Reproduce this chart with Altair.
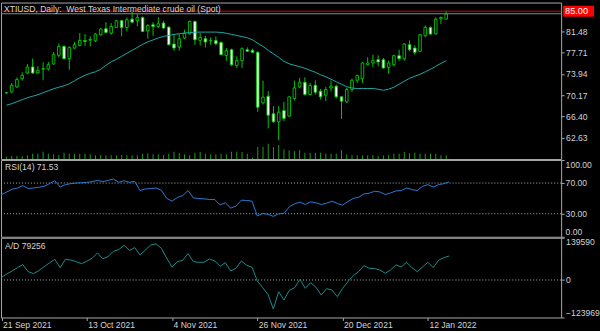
import altair as alt
import pandas as pd

TITLE = "XTIUSD, Daily:\u00a0\u00a0West Texas Intermediate crude oil (Spot)"

opens = [70.55, 70.75, 71.63, 73.09, 74.09, 75.15, 74.09, 74.75, 74.80, 75.68,
         77.20, 78.79, 76.62, 78.49, 78.96, 79.84, 79.90, 79.78, 80.84, 81.90,
         81.13, 82.13, 83.31, 82.13, 83.60, 83.31, 83.89, 81.55, 82.60, 82.31,
         82.90, 82.19, 79.20, 78.67, 80.26, 81.02, 83.19, 79.84, 80.14, 79.75,
         79.84, 79.49, 77.20, 78.20, 75.44, 76.27, 78.20, 78.09, 77.73, 68.81,
         69.99, 66.88, 65.47, 67.46, 66.47, 69.58, 71.63, 72.45, 70.28, 71.92,
         70.87, 70.16, 71.45, 71.75, 69.87, 68.99, 71.16, 72.80, 73.09, 75.56,
         75.85, 76.44, 76.44, 75.09, 75.56, 77.14, 76.62, 79.08, 78.49, 77.91,
         80.67, 82.13, 81.02, 83.66, 83.60]
highs = [70.75, 72.33, 73.33, 74.21, 75.68, 76.62, 75.27, 75.97, 76.03, 77.79,
         79.26, 78.96, 78.79, 79.55, 81.13, 80.96, 80.55, 81.13, 82.02, 83.07,
         82.90, 83.48, 83.48, 83.89, 84.83, 84.48, 84.07, 82.72, 83.07, 83.95,
         83.31, 82.31, 80.96, 80.96, 81.72, 83.36, 83.36, 81.13, 80.67, 80.37,
         80.55, 79.67, 78.49, 78.38, 77.03, 78.61, 78.61, 78.38, 77.91, 72.74,
         70.87, 68.23, 68.23, 68.99, 69.99, 72.74, 73.21, 73.33, 72.33, 72.80,
         71.28, 71.63, 72.74, 72.04, 69.99, 71.45, 73.09, 73.80, 76.03, 76.85,
         77.32, 77.20, 76.73, 76.26, 77.32, 78.20, 79.38, 79.84, 78.96, 81.02,
         82.48, 82.31, 83.89, 84.07, 85.07]
lows = [70.45, 70.57, 71.45, 72.74, 73.92, 73.92, 73.92, 72.80, 74.50, 75.56,
        76.85, 76.44, 74.68, 78.32, 78.79, 78.90, 78.79, 79.55, 80.67, 81.13,
        80.84, 82.02, 80.55, 81.43, 82.90, 82.31, 81.31, 80.14, 80.67, 82.02,
        81.90, 78.96, 78.02, 78.02, 80.08, 80.84, 79.08, 78.96, 78.61, 79.08,
        78.96, 77.20, 76.26, 75.27, 74.98, 74.98, 77.80, 77.62, 67.23, 68.52,
        64.29, 65.29, 62.18, 65.59, 66.29, 69.22, 71.45, 70.10, 70.10, 70.28,
        69.40, 69.11, 70.87, 69.58, 65.99, 68.81, 70.75, 72.33, 72.33, 75.44,
        75.15, 75.27, 74.86, 73.92, 75.27, 76.26, 76.26, 77.91, 77.32, 77.79,
        80.37, 80.84, 80.84, 82.72, 83.48]
closes = [70.60, 71.92, 72.92, 73.68, 75.15, 74.09, 74.56, 74.85, 75.56, 77.32,
          78.79, 76.62, 78.61, 79.08, 79.84, 79.67, 80.00, 80.96, 81.84, 81.25,
          82.31, 83.31, 82.13, 83.48, 83.07, 83.89, 81.43, 82.48, 82.31, 82.78,
          82.02, 79.08, 78.49, 80.14, 81.13, 83.19, 79.96, 80.37, 79.55, 79.80,
          79.26, 77.32, 78.02, 75.56, 76.27, 78.38, 77.91, 77.73, 68.05, 69.81,
          66.64, 65.47, 67.17, 66.06, 69.87, 71.45, 72.45, 70.28, 71.87, 70.69,
          69.87, 71.16, 71.75, 69.87, 69.11, 71.16, 72.80, 73.62, 75.85, 75.85,
          76.32, 76.03, 74.97, 75.85, 77.14, 76.62, 79.20, 78.20, 77.73, 80.84,
          82.13, 80.96, 83.60, 83.89, 84.55]
ma = [68.40, 68.66, 69.02, 69.37, 69.72, 69.98, 70.25, 70.60, 70.95, 71.31,
      71.57, 71.83, 72.19, 72.71, 73.24, 73.68, 74.03, 74.30, 74.74, 75.44,
      76.06, 76.50, 77.03, 77.56, 78.08, 78.61, 79.14, 79.58, 79.93, 80.28,
      80.55, 80.72, 80.90, 81.02, 81.13, 81.22, 81.29, 81.31, 81.31, 81.31,
      81.31, 81.25, 81.11, 80.90, 80.72, 80.50, 80.32, 79.93, 79.32, 78.79,
      78.08, 77.47, 76.85, 76.15, 75.71, 75.44, 75.21, 74.91, 74.56, 74.21,
      73.77, 73.42, 72.98, 72.54, 72.10, 71.66, 71.43, 71.34, 71.34, 71.34,
      71.34, 71.22, 71.04, 71.22, 71.57, 72.10, 72.63, 73.15, 73.51, 73.86,
      74.30, 74.74, 75.27, 75.79, 76.27]
volumes = [25, 30, 30, 30, 37, 53, 53, 73, 53, 47,
           40, 63, 53, 53, 53, 53, 47, 37, 40, 37,
           37, 37, 40, 37, 37, 37, 53, 57, 47, 47,
           40, 53, 73, 60, 47, 40, 63, 70, 53, 47,
           47, 53, 47, 73, 73, 70, 53, 13, 120, 123,
           153, 120, 140, 97, 87, 80, 90, 63, 63, 63,
           63, 53, 53, 53, 90, 47, 40, 37, 37, 37,
           40, 30, 37, 40, 53, 53, 70, 57, 63, 53,
           53, 53, 53, 37, 37]
rsi = [55.0, 58.4, 61.9, 63.5, 66.6, 62.8, 63.5, 64.5, 65.7, 69.2,
       73.1, 64.8, 67.9, 69.2, 70.0, 70.4, 70.9, 71.8, 73.5, 71.8,
       73.5, 75.2, 70.9, 73.1, 70.9, 72.2, 60.2, 62.3, 62.8, 63.5,
       60.6, 49.9, 46.4, 51.2, 53.7, 60.2, 50.6, 49.9, 49.4, 48.6,
       48.6, 41.6, 44.2, 37.4, 39.9, 47.7, 47.3, 46.4, 27.0, 30.5,
       29.2, 26.6, 30.0, 30.5, 39.0, 42.9, 45.1, 42.1, 45.5, 44.2,
       42.1, 43.8, 46.4, 43.4, 41.2, 46.0, 49.9, 51.5, 55.8, 56.7,
       59.3, 58.4, 55.0, 57.1, 59.7, 60.2, 63.5, 61.5, 60.2, 65.7,
       67.9, 64.8, 67.9, 69.2, 71.53]
ad = [8830, 19870, 29800, 40840, 50770, 27590, 20970, 30900, 44150, 56290,
      68430, 40840, 68430, 66220, 60700, 54080, 61810, 71740, 89400, 70640,
      77260, 94920, 100440, 114790, 98230, 107060, 82780, 99330, 115890, 119200,
      104850, 71740, 43040, 60700, 65120, 87190, 60700, 58500, 58500, 69530,
      62910, 45250, 57390, 29800, 38630, 62910, 48560, 41940, -3310, -25390,
      -47460, -96020, -38630, -66220, -34210, -25390, 2210, -27590, -8830, -24280,
      -49670, -28700, -33110, -55190, -27590, -5520, 14350, 27590, 47460, 38630,
      37530, 33110, 22070, 33110, 49670, 43040, 58500, 40840, 27590, 43040,
      58500, 40840, 65120, 73950, 79256]

tick_idx = [0, 16, 32, 48, 64, 80]
tick_labels = ["21 Sep 2021", "13 Oct 2021", "4 Nov 2021", "26 Nov 2021",
               "20 Dec 2021", "12 Jan 2022"]
price_ticks = [62.63, 66.40, 70.17, 73.94, 77.71, 81.48]
rsi_levels = [30, 70]
rsi_ticks = [0, 30, 70, 100]
ad_ticks = [-123969, 0, 139590]
ask_price = 85.00

n = len(closes)
df = pd.DataFrame({
    "i": list(range(n)), "open": opens, "high": highs, "low": lows,
    "close": closes, "ma": ma, "vol": volumes, "rsi": rsi, "ad": ad,
})

FONT = "Liberation Sans, Arial, sans-serif"
FS = 8.6
GREEN = "#00c800"
VOLGREEN = "#1f9a1f"
GRID = "#a8a8a8"
LABEL = "#d4d4d4"
W = 562
H_MAIN, H_RSI, H_AD, GAP = 157, 77, 80, 1

xs = alt.Scale(domain=[-0.0935, 105.0], nice=False, zero=False)
X_none = alt.X("i:Q", scale=xs, axis=None)

axis_common = dict(orient="right", title=None, domain=False, grid=False,
                   tickSize=3, tickColor=GRID, tickWidth=1, labelColor=LABEL,
                   labelFont=FONT, labelFontSize=FS, labelPadding=1.5,
                   labelAlign="left", labelOverlap=False)

# ---------- main panel ----------
pscale = alt.Scale(domain=[58.89, 86.53], nice=False, zero=False)
paxis = alt.Axis(values=price_ticks, format=".2f", labelBaseline="middle",
                 labelFlush=False, **axis_common)

base = alt.Chart(df)
wick = base.mark_rule(color=GREEN, strokeWidth=1, clip=True).encode(
    x=X_none, y=alt.Y("low:Q", scale=pscale, axis=paxis), y2="high:Q")
body = base.mark_bar(size=2.6, stroke=GREEN, strokeWidth=0.9, clip=True).encode(
    x=X_none, y=alt.Y("open:Q", scale=pscale, axis=paxis), y2="close:Q",
    fill=alt.when(alt.datum.close >= alt.datum.open)
        .then(alt.value("black")).otherwise(alt.value("white")))
ma_line = base.mark_line(color="#1ea8a8", strokeWidth=1, clip=True).encode(
    x=X_none, y=alt.Y("ma:Q", scale=pscale, axis=paxis))

ask_df = pd.DataFrame({"p": [ask_price]})
bid_df = pd.DataFrame({"p": [closes[-1]]})
bid_rule = alt.Chart(bid_df).mark_rule(color="#8a8a8a", strokeWidth=1).encode(
    y=alt.Y("p:Q", scale=pscale, axis=paxis))
ask_rule = alt.Chart(ask_df).mark_rule(color="#d80000", strokeWidth=1).encode(
    y=alt.Y("p:Q", scale=pscale, axis=paxis))
ask_box = alt.Chart(ask_df).mark_rect(color="#ff0000", yOffset=-5.5, y2Offset=5.5).encode(
    x=alt.value(564), x2=alt.value(595),
    y=alt.Y("p:Q", scale=pscale, axis=paxis), y2="p:Q")
ask_text = alt.Chart(ask_df).mark_text(align="left", baseline="middle", color="white",
                                       font=FONT, fontSize=FS + 0.6).encode(
    x=alt.value(566), y=alt.Y("p:Q", scale=pscale, axis=paxis),
    text=alt.Text("p:Q", format=".2f"))
title_txt = alt.Chart(pd.DataFrame({"t": [TITLE]})).mark_text(
    align="left", baseline="alphabetic", color=LABEL, font=FONT, fontSize=FS).encode(
    x=alt.value(3), y=alt.value(9), text="t:N")

price_group = alt.layer(wick, body, ma_line, bid_rule, ask_rule, ask_box, ask_text, title_txt)
vol_layer = base.mark_rule(color=VOLGREEN, strokeWidth=1, clip=True).encode(
    x=X_none, y=alt.Y("vol:Q", scale=alt.Scale(domain=[0, 1570], nice=False), axis=None),
    y2=alt.datum(0))
main = alt.layer(vol_layer, price_group).resolve_scale(y="independent").properties(
    width=W, height=H_MAIN)

# ---------- RSI panel ----------
rscale = alt.Scale(domain=[0, 100], nice=False)
raxis = alt.Axis(values=rsi_ticks, labels=False, **axis_common)
rsi_lvl = alt.Chart(pd.DataFrame({"lv": rsi_levels})).mark_rule(
    color="#b0b0b0", strokeDash=[1, 2], strokeWidth=1).encode(
    y=alt.Y("lv:Q", scale=rscale, axis=raxis))
rsi_line = base.mark_line(color="#2a7ad6", strokeWidth=1, clip=True).encode(
    x=X_none, y=alt.Y("rsi:Q", scale=rscale, axis=raxis))
rsi_txt = alt.Chart(pd.DataFrame({"t": [f"RSI(14) {rsi[-1]:.2f}"]})).mark_text(
    align="left", baseline="alphabetic", color=LABEL, font=FONT, fontSize=FS).encode(
    x=alt.value(4), y=alt.value(10.5), text="t:N")


def rsi_label_layer(vals, dy):
    return alt.Chart(pd.DataFrame({"v": vals})).mark_text(
        align="left", baseline="middle", dy=dy, color=LABEL, font=FONT,
        fontSize=FS).encode(
        x=alt.value(W + 4.5), y=alt.Y("v:Q", scale=rscale, axis=raxis),
        text=alt.Text("v:Q", format=".2f"))


rsi_lab_mid = rsi_label_layer(rsi_ticks[1:-1], 0)
rsi_lab_bot = rsi_label_layer(rsi_ticks[:1], -4.5)
rsi_panel = alt.layer(rsi_lvl, rsi_line, rsi_txt, rsi_lab_mid,
                      rsi_lab_bot).properties(width=W, height=H_RSI)

# ---------- A/D panel ----------
ascale = alt.Scale(domain=[ad_ticks[0], ad_ticks[-1]], nice=False, zero=False)
aaxis = alt.Axis(values=ad_ticks, format="d", labelFlush=True, **axis_common)
label_expr = "''"
for v, s in reversed(list(zip(tick_idx, tick_labels))):
    label_expr = f"datum.value == {v} ? '{s}' : ({label_expr})"
xaxis = alt.Axis(values=tick_idx, labelExpr=label_expr,
                 orient="bottom", title=None, domain=False, grid=False, tickSize=3,
                 tickColor=GRID, labelColor=LABEL, labelFont=FONT, labelFontSize=FS,
                 labelAlign="left", labelBaseline="top", labelPadding=0, labelOffset=1,
                 labelFlush=False, labelOverlap=False, labelBound=False)
X_ad = alt.X("i:Q", scale=xs, axis=xaxis)
ad_zero = alt.Chart(pd.DataFrame({"z": [0]})).mark_rule(
    color="#b0b0b0", strokeDash=[1, 2], strokeWidth=1).encode(
    y=alt.Y("z:Q", scale=ascale, axis=aaxis))
ad_line = base.mark_line(color="#1b8c8c", strokeWidth=1, clip=True).encode(
    x=X_ad, y=alt.Y("ad:Q", scale=ascale, axis=aaxis))
ad_txt = alt.Chart(pd.DataFrame({"t": [f"A/D {ad[-1]}"]})).mark_text(
    align="left", baseline="alphabetic", color=LABEL, font=FONT, fontSize=FS).encode(
    x=alt.value(4), y=alt.value(11), text="t:N")
# top RSI label (100.00), drawn last so nothing paints over it
rsi_top_lab = alt.Chart(pd.DataFrame({"t": [f"{rsi_ticks[-1]:.2f}"]})).mark_text(
    align="left", baseline="middle", color=LABEL, font=FONT, fontSize=FS).encode(
    x=alt.value(W + 4.5), y=alt.value(-(H_RSI + GAP) + 5), text="t:N")
ad_panel = alt.layer(ad_zero, ad_line, ad_txt, rsi_top_lab).properties(width=W, height=H_AD)

chart = alt.vconcat(main, rsi_panel, ad_panel, spacing=GAP, bounds="flush").properties(
    padding={"left": 0, "top": 1, "right": 0, "bottom": 0},
    background="black",
).configure_view(stroke=GRID, strokeWidth=1, fill="black")

chart.save("out.html", embed_options={"renderer": "svg", "actions": False})
